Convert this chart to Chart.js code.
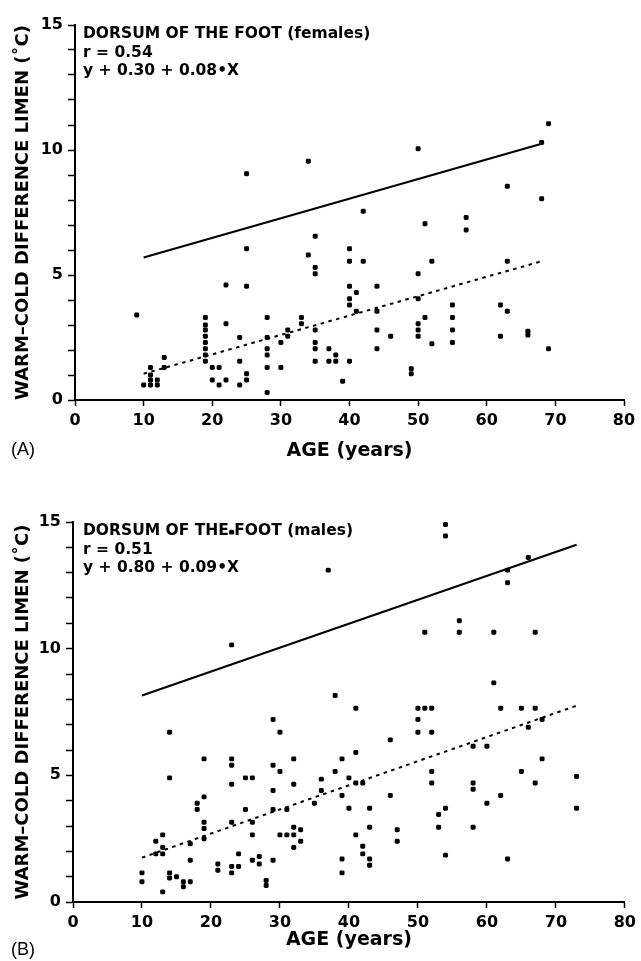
<!DOCTYPE html>
<html>
<head>
<meta charset="utf-8">
<script src="https://cdn.jsdelivr.net/npm/chart.js@4.4.0/dist/chart.umd.min.js"></script>
<style>
    html, body { margin: 0; padding: 0; background: #fff; }
    .panel { position: absolute; left: 0; }
    #panelA { top: 0; }
    #panelB { top: 480px; }
</style>
</head>
<body>
<div class="panel" id="panelA"><canvas id="chartA" width="641" height="470"></canvas></div>
<div class="panel" id="panelB"><canvas id="chartB" width="641" height="481"></canvas></div>
<script>
// Panel A - females
const femaleAge = [
    9, 10, 11, 12, 11, 12, 11, 11, 13, 13,
    19, 19, 19, 19, 19, 19, 19, 19, 20, 21, 20, 22, 21, 22, 22,
    25, 25, 25, 25, 25, 24, 24, 24,
    28, 28, 28, 28, 28, 28, 30, 30, 31, 31, 33, 33, 34, 34,
    35, 35, 35, 35, 35, 35, 35, 37, 37, 38, 38, 39,
    40, 40, 40, 40, 40, 40, 41, 41, 42, 42, 44, 44, 44, 44, 46, 49, 49,
    50, 50, 50, 50, 50, 50, 51, 51, 52, 52, 55, 55, 55, 55, 57, 57,
    62, 62, 63, 63, 63, 66, 66, 68, 68, 69, 69
];
const femaleLimen = [
    3.4, 0.6, 0.6, 0.6, 0.8, 0.8, 1.0, 1.3, 1.3, 1.7,
    3.3, 3.0, 2.8, 2.55, 2.3, 2.05, 1.8, 1.55, 1.3, 1.3, 0.8, 0.8, 0.6, 4.6, 3.05,
    9.05, 6.05, 4.55, 1.05, 0.8, 2.5, 1.55, 0.6,
    3.3, 2.5, 2.05, 1.8, 1.3, 0.3, 2.3, 1.3, 2.8, 2.55, 3.3, 3.05, 9.55, 5.8,
    6.55, 5.3, 5.05, 2.8, 2.3, 2.05, 1.55, 2.05, 1.55, 1.8, 1.55, 0.75,
    6.05, 5.55, 4.55, 4.05, 3.8, 1.55, 4.3, 3.55, 7.55, 5.55, 4.55, 3.55, 2.8, 2.05, 2.55, 1.25, 1.05,
    10.05, 5.05, 4.05, 3.05, 2.8, 2.55, 7.05, 3.3, 5.55, 2.25, 3.8, 3.3, 2.8, 2.3, 7.3, 6.8,
    3.8, 2.55, 8.55, 5.55, 3.55, 2.75, 2.6, 10.3, 8.05, 11.05, 2.05
];
const femaleUpperX = [10, 68];
const femaleUpperY = [5.7, 10.25];
const femaleFitX = [10, 68];
const femaleFitY = [1.05, 5.55];
const femaleNotes = ['DORSUM OF THE FOOT (females)', 'r = 0.54', 'y + 0.30 + 0.08\u2022X'];

// Panel B - males
const maleAge = [
    10, 10, 12, 12, 13, 13, 13, 13, 14, 14, 14, 14, 15, 16, 16, 17, 17, 17, 18, 18,
    19, 19, 19, 19, 19, 21, 21, 23, 23, 23, 23, 23, 23, 23, 23, 24, 24,
    25, 25, 26, 26, 26, 26, 27, 27, 28, 28, 29, 29, 29, 29, 29, 30, 30, 30, 31, 31,
    32, 32, 32, 32, 32, 33, 33, 35, 36, 36, 37, 38, 38, 39, 39, 39, 39, 40, 40,
    41, 41, 41, 41, 42, 42, 42, 43, 43, 43, 43, 46, 46, 47, 47,
    50, 50, 50, 51, 51, 52, 52, 52, 52, 53, 53, 54, 54, 54, 54, 56, 56,
    58, 58, 58, 58, 60, 60, 61, 61, 62, 62, 63, 63, 63, 65, 65, 66, 66,
    67, 67, 67, 68, 68, 73, 73
];
const maleLimen = [
    1.15, 0.8, 2.4, 1.9, 0.4, 1.9, 2.15, 2.65, 6.7, 4.9, 1.15, 0.95, 1.0, 0.8, 0.6, 0.8, 1.65, 2.3, 3.9, 3.65,
    5.65, 4.15, 3.15, 2.9, 2.5, 1.5, 1.25, 14.6, 10.15, 5.65, 5.4, 4.65, 3.15, 1.4, 1.15, 1.4, 1.9,
    4.9, 3.65, 4.9, 3.15, 2.65, 1.65, 1.8, 1.5, 0.85, 0.65, 7.2, 5.4, 4.4, 3.65, 1.65, 6.7, 5.15, 2.65, 3.65, 2.65,
    5.65, 4.65, 2.95, 2.65, 2.15, 2.85, 2.4, 3.9, 4.85, 4.4, 13.1, 8.15, 5.15, 5.65, 4.2, 1.7, 1.15, 4.9, 3.7,
    7.65, 5.9, 4.7, 2.65, 4.7, 2.2, 1.9, 3.7, 2.95, 1.7, 1.45, 6.4, 4.2, 2.85, 2.4,
    7.65, 7.2, 6.7, 10.65, 7.65, 7.65, 6.7, 5.15, 4.7, 3.45, 2.95, 14.9, 14.45, 3.7, 1.85, 11.1, 10.65,
    6.15, 4.7, 4.45, 2.95, 6.15, 3.9, 10.65, 8.65, 7.65, 4.2, 13.1, 12.6, 1.7, 7.65, 5.15, 13.6, 6.9,
    10.65, 7.65, 4.7, 7.2, 5.65, 4.95, 3.7
];
const maleUpperX = [10, 73];
const maleUpperY = [8.15, 14.1];
const maleFitX = [10, 73];
const maleFitY = [1.75, 7.75];
const maleNotes = ['DORSUM OF THE FOOT (males)', 'r = 0.51', 'y + 0.80 + 0.09\u2022X'];

const yTicks = [0, 5, 10, 15];
const xTicks = [0, 10, 20, 30, 40, 50, 60, 70, 80];

const FONT = '"DejaVu Sans", "Liberation Sans", sans-serif';

function toPoints(xs, ys) {
    return xs.map((x, i) => ({ x: x, y: ys[i] }));
}

// Draws the note lines in the top left of the plot and the panel letter
const panelText = {
    id: 'panelText',
    afterDraw(chart, args, opts) {
        const ctx = chart.ctx;
        ctx.save();
        ctx.fillStyle = '#000';
        ctx.textBaseline = 'alphabetic';
        ctx.textAlign = 'left';
        ctx.font = 'bold 15.5px ' + FONT;
        opts.lines.forEach((line, i) => {
            ctx.fillText(line, opts.noteX, chart.chartArea.top + 13 + i * 18.5);
        });
        ctx.font = '18px "Liberation Sans", Arial, sans-serif';
        ctx.fillText(opts.letter, 11, opts.letterY);
        ctx.restore();
    }
};

function makeChart(id, cfg) {
    const ctx = document.getElementById(id).getContext('2d');
    return new Chart(ctx, {
        type: 'scatter',
        data: {
            datasets: [
                {
                    data: toPoints(cfg.age, cfg.limen),
                    backgroundColor: '#000',
                    borderColor: '#000',
                    pointStyle: 'rectRounded',
                    pointRadius: 2.9,
                    borderWidth: 0
                },
                {
                    data: toPoints(cfg.upperX, cfg.upperY),
                    showLine: true,
                    borderColor: '#000',
                    borderWidth: 2,
                    pointRadius: 0
                },
                {
                    data: toPoints(cfg.fitX, cfg.fitY),
                    showLine: true,
                    borderColor: '#000',
                    borderWidth: 2,
                    borderDash: [3.5, 4.5],
                    pointRadius: 0
                }
            ]
        },
        options: {
            responsive: false,
            animation: false,
            layout: {
                padding: { top: cfg.top, right: cfg.right, bottom: 0, left: 0 }
            },
            plugins: {
                legend: { display: false },
                tooltip: { enabled: false },
                panelText: { lines: cfg.notes, letter: cfg.letter, letterY: cfg.letterY, noteX: 83 }
            },
            scales: {
                x: {
                    type: 'linear',
                    min: 0,
                    max: 80,
                    afterBuildTicks: s => { s.ticks = xTicks.map(v => ({ value: v })); },
                    afterFit: s => { s.height = cfg.xHeight; },
                    ticks: {
                        color: '#000',
                        padding: 5,
                        maxRotation: 0,
                        font: { family: FONT, weight: 'bold', size: 16 }
                    },
                    grid: { drawOnChartArea: false, color: '#000', tickLength: 6, tickWidth: 1.5 },
                    border: { color: '#000', width: 2 },
                    title: {
                        display: true,
                        text: 'AGE (years)',
                        color: '#000',
                        font: { family: FONT, weight: 'bold', size: 19 },
                        padding: { top: 0, bottom: cfg.xTitlePad }
                    }
                },
                y: {
                    type: 'linear',
                    min: 0,
                    max: 15,
                    afterFit: s => { s.width = cfg.yWidth; },
                    ticks: {
                        stepSize: 1,
                        autoSkip: false,
                        color: '#000',
                        padding: 5,
                        font: { family: FONT, weight: 'bold', size: 16 },
                        callback: v => yTicks.includes(v) ? v : ''
                    },
                    grid: { drawOnChartArea: false, color: '#000', tickLength: 7, tickWidth: 1.5 },
                    border: { color: '#000', width: 2 },
                    title: {
                        display: true,
                        text: 'WARM\u2013COLD DIFFERENCE LIMEN (\u02DAC)',
                        color: '#000',
                        font: { family: FONT, weight: 'bold', size: 18 },
                        padding: { top: 13, bottom: 0 }
                    }
                }
            }
        },
        plugins: [panelText]
    });
}

makeChart('chartA', {
    age: femaleAge, limen: femaleLimen,
    upperX: femaleUpperX, upperY: femaleUpperY,
    fitX: femaleFitX, fitY: femaleFitY,
    notes: femaleNotes, letter: '(A)', letterY: 455,
    top: 25, right: 17, xHeight: 70, yWidth: 75, xTitlePad: 8
});

makeChart('chartB', {
    age: maleAge, limen: maleLimen,
    upperX: maleUpperX, upperY: maleUpperY,
    fitX: maleFitX, fitY: maleFitY,
    notes: maleNotes, letter: '(B)', letterY: 475,
    top: 42, right: 16, xHeight: 59, yWidth: 73, xTitlePad: 10
});
</script>
</body>
</html>
